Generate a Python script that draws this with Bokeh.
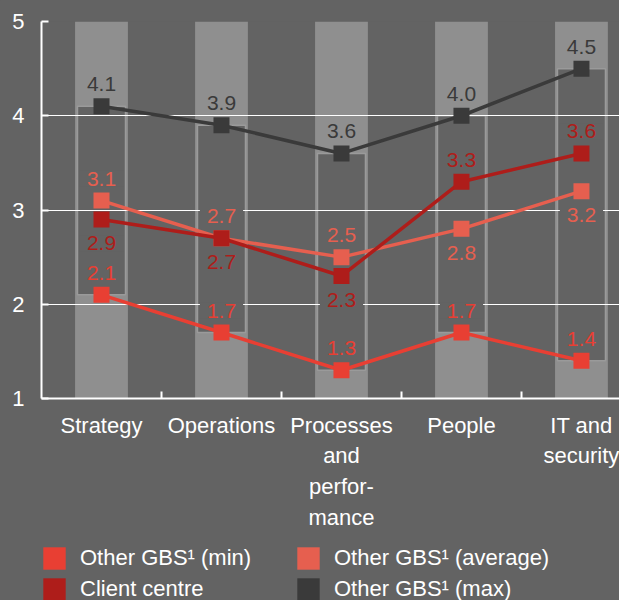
from bokeh.plotting import figure
from bokeh.layouts import column
from bokeh.models import Range1d, FixedTicker, Legend, LegendItem, Label
from bokeh.embed import file_html
from bokeh.resources import INLINE

# ---- data ----
categories = ["Strategy", "Operations", "Processes\nand\nperfor-\nmance", "People", "IT and\nsecurity"]
gbs_min = [2.1, 1.7, 1.3, 1.7, 1.4]
gbs_avg = [3.1, 2.7, 2.5, 2.8, 3.2]
client = [2.9, 2.7, 2.3, 3.3, 3.6]
gbs_max = [4.1, 3.9, 3.6, 4.0, 4.5]
y_ticks = [1, 2, 3, 4, 5]
series_names = ["Other GBS¹ (min)", "Other GBS¹ (average)", "Client centre", "Other GBS¹ (max)"]

# ---- style ----
BG = "#636363"
COL = "#8f8f8f"
FONT = "Liberation Sans"
C_MIN = "#e83f33"
C_AVG = "#e65f4f"
C_CLI = "#ae1d1a"
C_MAX = "#3a3a3a"

# label placement (1 = above, -1 = below)
side_min = [1, 1, 1, 1, 1]
side_avg = [1, 1, 1, -1, -1]
side_cli = [-1, -1, -1, 1, 1]
side_max = [1, 1, 1, 1, 1]

xs = list(range(len(categories)))

fig = figure(frame_width=578, frame_height=377,
             x_range=Range1d(-0.5, 4.317), y_range=Range1d(y_ticks[0], y_ticks[-1]),
             output_backend="svg", toolbar_location=None,
             min_border_left=41, min_border_right=0, min_border_top=21, min_border_bottom=137,
             background_fill_color=BG, border_fill_color=BG, outline_line_color=None)

# columns and min-max boxes
fig.vbar(x=xs, width=0.44, bottom=y_ticks[0], top=y_ticks[-1], fill_color=COL,
         line_color=None, level="image")
fig.vbar(x=xs, width=0.40, bottom=gbs_min, top=gbs_max, fill_color=BG,
         line_color="#9a9a9a", line_width=1.5, level="image")

# grid
fig.xgrid.visible = False
fig.ygrid.ticker = FixedTicker(ticks=y_ticks)
fig.ygrid.grid_line_color = "white"
fig.ygrid.grid_line_width = 1.2

# y axis
fig.yaxis.ticker = FixedTicker(ticks=y_ticks)
fig.yaxis.axis_line_color = "white"
fig.yaxis.axis_line_width = 2
fig.yaxis.major_tick_in = 7
fig.yaxis.major_tick_out = 0
fig.yaxis.major_tick_line_color = "white"
fig.yaxis.major_tick_line_width = 2
fig.yaxis.minor_tick_line_color = None
fig.yaxis.major_label_standoff = 17
fig.yaxis.major_label_text_font = FONT
fig.yaxis.major_label_text_font_size = "22px"
fig.yaxis.major_label_text_color = "white"

# x axis
fig.xaxis.ticker = FixedTicker(ticks=xs, minor_ticks=[i + 0.5 for i in xs[:-1]])
fig.xaxis.major_label_overrides = {i: c for i, c in zip(xs, categories)}
fig.xaxis.axis_line_color = "white"
fig.xaxis.axis_line_width = 2
fig.xaxis.major_tick_in = 0
fig.xaxis.major_tick_out = 0
fig.xaxis.minor_tick_in = 7
fig.xaxis.minor_tick_out = 0
fig.xaxis.minor_tick_line_color = "white"
fig.xaxis.minor_tick_line_width = 2
fig.xaxis.major_label_standoff = 14
fig.xaxis.major_label_text_font = FONT
fig.xaxis.major_label_text_font_size = "22px"
fig.xaxis.major_label_text_color = "white"
fig.xaxis.major_label_text_line_height = 1.23

series = [
    (gbs_max, C_MAX, side_max, None),
    (gbs_min, C_MIN, side_min, BG),
    (gbs_avg, C_AVG, side_avg, BG),
    (client, C_CLI, side_cli, BG),
]
for vals, c, sides, bgc in series:
    fig.line(xs, vals, line_color=c, line_width=3.5)
    fig.scatter(xs, vals, marker="square", size=16, fill_color=c, line_color=None)

for vals, c, sides, bgc in series:
    for x, v, s in zip(xs, vals, sides):
        lab = Label(x=x, y=v, text=f"{v:.1f}", y_offset=22 if s > 0 else -24,
                    text_align="center", text_baseline="middle",
                    text_font=FONT, text_font_size="21px", text_color=c,
                    background_fill_color=bgc,
                    padding=dict(left=7, right=7, top=1, bottom=1))
        fig.add_layout(lab)

# ---- legend strip below the chart (transparent; the column supplies the grey) ----
leg = figure(width=619, height=65, x_range=Range1d(0, 1), y_range=Range1d(0, 1),
             x_axis_type=None, y_axis_type=None, output_backend="svg", toolbar_location=None,
             min_border=0, background_fill_color=None, border_fill_color=None,
             outline_line_color=None)
leg.xgrid.visible = False
leg.ygrid.visible = False

swatches = {}
for name, vals, c in zip(series_names, [gbs_min, gbs_avg, client, gbs_max],
                         [C_MIN, C_AVG, C_CLI, C_MAX]):
    # zero-area quads: invisible in the strip, used only for the legend swatch
    swatches[name] = leg.quad(left=xs, right=xs, bottom=vals, top=vals,
                              fill_color=c, line_color=None)

legend_order = [series_names[0], series_names[2], series_names[1], series_names[3]]
lg = Legend(items=[LegendItem(label=n, renderers=[swatches[n]]) for n in legend_order],
            location=(-1, -3), orientation="vertical", ncols=2,
            padding=0, margin=0, spacing=3,
            glyph_width=28, glyph_height=28, label_height=28, label_width=211,
            label_standoff=12,
            label_text_font=FONT, label_text_font_size="22px", label_text_color="white",
            border_line_color=None, background_fill_alpha=0)
leg.add_layout(lg)

p = column(fig, leg, spacing=0, styles={"background-color": BG})

open("out.html", "w").write(file_html(p, INLINE))
